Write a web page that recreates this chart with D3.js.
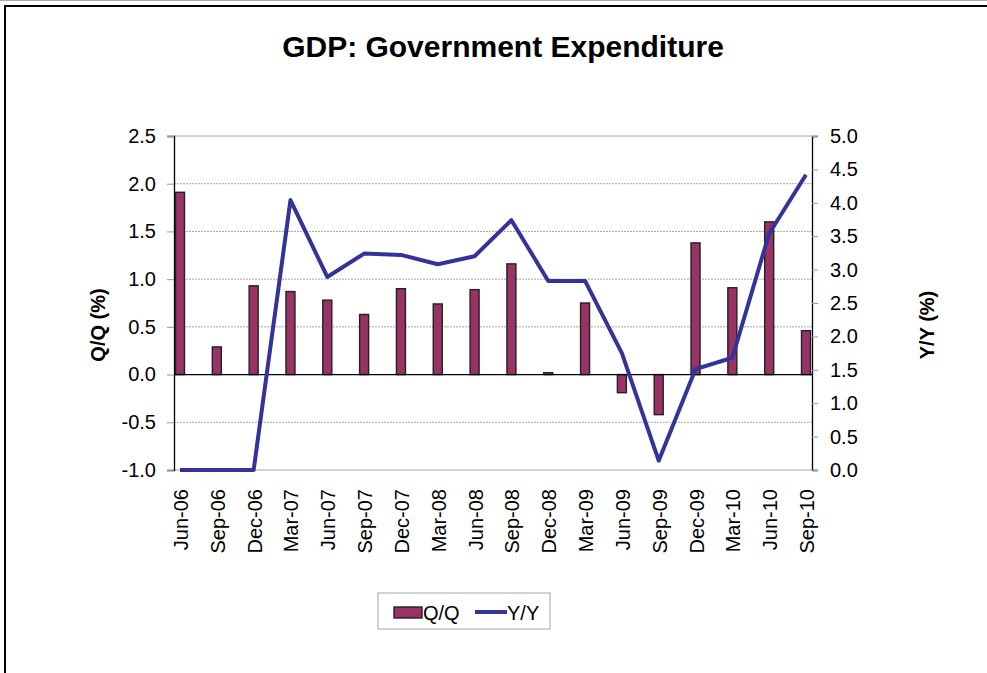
<!DOCTYPE html>
<html>
<head>
<meta charset="utf-8">
<script src="https://cdn.jsdelivr.net/npm/d3@7"></script>
<style>
  body { margin: 0; background: #fff; }
  svg { font-family: "Liberation Sans", Arial, sans-serif; }
</style>
</head>
<body>
<div id="chart"></div>
<script>
// Data
const quarters = ["Jun-06", "Sep-06", "Dec-06", "Mar-07", "Jun-07", "Sep-07", "Dec-07", "Mar-08", "Jun-08",
    "Sep-08", "Dec-08", "Mar-09", "Jun-09", "Sep-09", "Dec-09", "Mar-10", "Jun-10", "Sep-10"];
const qq = [1.91, 0.29, 0.93, 0.87, 0.78, 0.63, 0.90, 0.74, 0.89, 1.16, 0.02, 0.75, -0.19, -0.42, 1.38, 0.91, 1.60, 0.46];
const yy = [0.0, 0.0, 0.0, 4.04, 2.89, 3.24, 3.22, 3.08, 3.20, 3.74, 2.83, 2.83, 1.75, 0.14, 1.51, 1.68, 3.54, 4.42];
const leftTicks = [-1.0, -0.5, 0.0, 0.5, 1.0, 1.5, 2.0, 2.5];
const rightTicks = [0.0, 0.5, 1.0, 1.5, 2.0, 2.5, 3.0, 3.5, 4.0, 4.5, 5.0];

const W = 987, H = 673;
const plot = { left: 174, right: 812, top: 136, bottom: 470 };
const fs = 20;

const svg = d3.select("#chart").append("svg")
    .attr("width", W)
    .attr("height", H);

// outer frame
svg.append("line").attr("x1", 0).attr("x2", W).attr("y1", 0.5).attr("y2", 0.5)
    .attr("stroke", "#aaa").attr("stroke-width", 1);
svg.append("rect").attr("x", 5).attr("y", 6).attr("width", W + 10).attr("height", H + 10)
    .attr("fill", "none").attr("stroke", "#000").attr("stroke-width", 2);

// Scales
const x = d3.scalePoint().domain(quarters).range([plot.left + 6, plot.right - 6]);
const yL = d3.scaleLinear().domain([-1, 2.5]).range([plot.bottom, plot.top]);
const yR = d3.scaleLinear().domain([0, 5]).range([plot.bottom, plot.top]);

// Gridlines
svg.append("g").selectAll("line")
    .data(leftTicks.filter(t => t !== 0))
    .join("line")
    .attr("x1", plot.left).attr("x2", plot.right)
    .attr("y1", d => yL(d)).attr("y2", d => yL(d))
    .attr("stroke", "#a6a6a6").attr("stroke-width", 1)
    .attr("stroke-dasharray", d => (d === -1 || d === 2.5) ? null : "2,1");

// Left axis
const axL = svg.append("g")
    .attr("transform", `translate(${plot.left},0)`)
    .call(d3.axisLeft(yL).tickValues(leftTicks).tickFormat(d3.format(".1f")).tickSize(7).tickPadding(11));
axL.select(".domain").attr("stroke", "#000").attr("stroke-width", 1.3);
axL.selectAll(".tick line").attr("stroke", "#999");
axL.selectAll("text").attr("font-size", fs).attr("fill", "#000").text(d => d3.format(".1f")(d).replace("−", "-"));

// Right axis
const axR = svg.append("g")
    .attr("transform", `translate(${plot.right},0)`)
    .call(d3.axisRight(yR).tickValues(rightTicks).tickFormat(d3.format(".1f")).tickSize(6).tickPadding(12));
axR.select(".domain").attr("stroke", "#000").attr("stroke-width", 1.3);
axR.selectAll(".tick line").attr("stroke", "#999");
axR.selectAll("text").attr("font-size", fs).attr("fill", "#000");

// Bars
const bw = 9;
svg.append("g").selectAll("rect")
    .data(qq)
    .join("rect")
    .attr("x", (d, i) => x(quarters[i]) - bw / 2)
    .attr("y", d => yL(Math.max(0, d)))
    .attr("width", bw)
    .attr("height", d => Math.abs(yL(d) - yL(0)))
    .attr("fill", "#993366")
    .attr("stroke", "#222")
    .attr("stroke-width", 1.4);

// Zero line (category axis)
svg.append("line")
    .attr("x1", plot.left).attr("x2", plot.right)
    .attr("y1", yL(0)).attr("y2", yL(0))
    .attr("stroke", "#000").attr("stroke-width", 1.3);

// Y/Y line
const line = d3.line()
    .x((d, i) => x(quarters[i]))
    .y(d => yR(d));
svg.append("path")
    .datum(yy)
    .attr("d", line)
    .attr("fill", "none")
    .attr("stroke", "#333399")
    .attr("stroke-width", 4)
    .attr("stroke-linejoin", "round");

// Category labels
svg.append("g").selectAll("text")
    .data(quarters)
    .join("text")
    .attr("transform", d => `translate(${x(d) + 8},489) rotate(-90)`)
    .attr("text-anchor", "end")
    .attr("font-size", fs)
    .text(d => d);

// Title
svg.append("text")
    .attr("x", 503).attr("y", 57)
    .attr("text-anchor", "middle")
    .attr("font-size", 30).attr("font-weight", "bold")
    .text("GDP: Government Expenditure");

// Axis titles
svg.append("text")
    .attr("transform", "translate(105,325) rotate(-90)")
    .attr("text-anchor", "middle")
    .attr("font-size", fs).attr("font-weight", "bold")
    .text("Q/Q (%)");
svg.append("text")
    .attr("transform", "translate(934,325) rotate(-90)")
    .attr("text-anchor", "middle")
    .attr("font-size", fs).attr("font-weight", "bold")
    .text("Y/Y (%)");

// Legend
const lg = svg.append("g");
lg.append("rect").attr("x", 378).attr("y", 593).attr("width", 172).attr("height", 36)
    .attr("fill", "#fff").attr("stroke", "#a6a6a6");
lg.append("rect").attr("x", 394).attr("y", 607).attr("width", 28).attr("height", 11)
    .attr("fill", "#993366").attr("stroke", "#222").attr("stroke-width", 1.4);
lg.append("text").attr("x", 423).attr("y", 620).attr("font-size", fs).text("Q/Q");
lg.append("line").attr("x1", 475).attr("x2", 507).attr("y1", 612).attr("y2", 612)
    .attr("stroke", "#333399").attr("stroke-width", 4);
lg.append("text").attr("x", 507).attr("y", 620).attr("font-size", fs).text("Y/Y");
</script>
</body>
</html>
